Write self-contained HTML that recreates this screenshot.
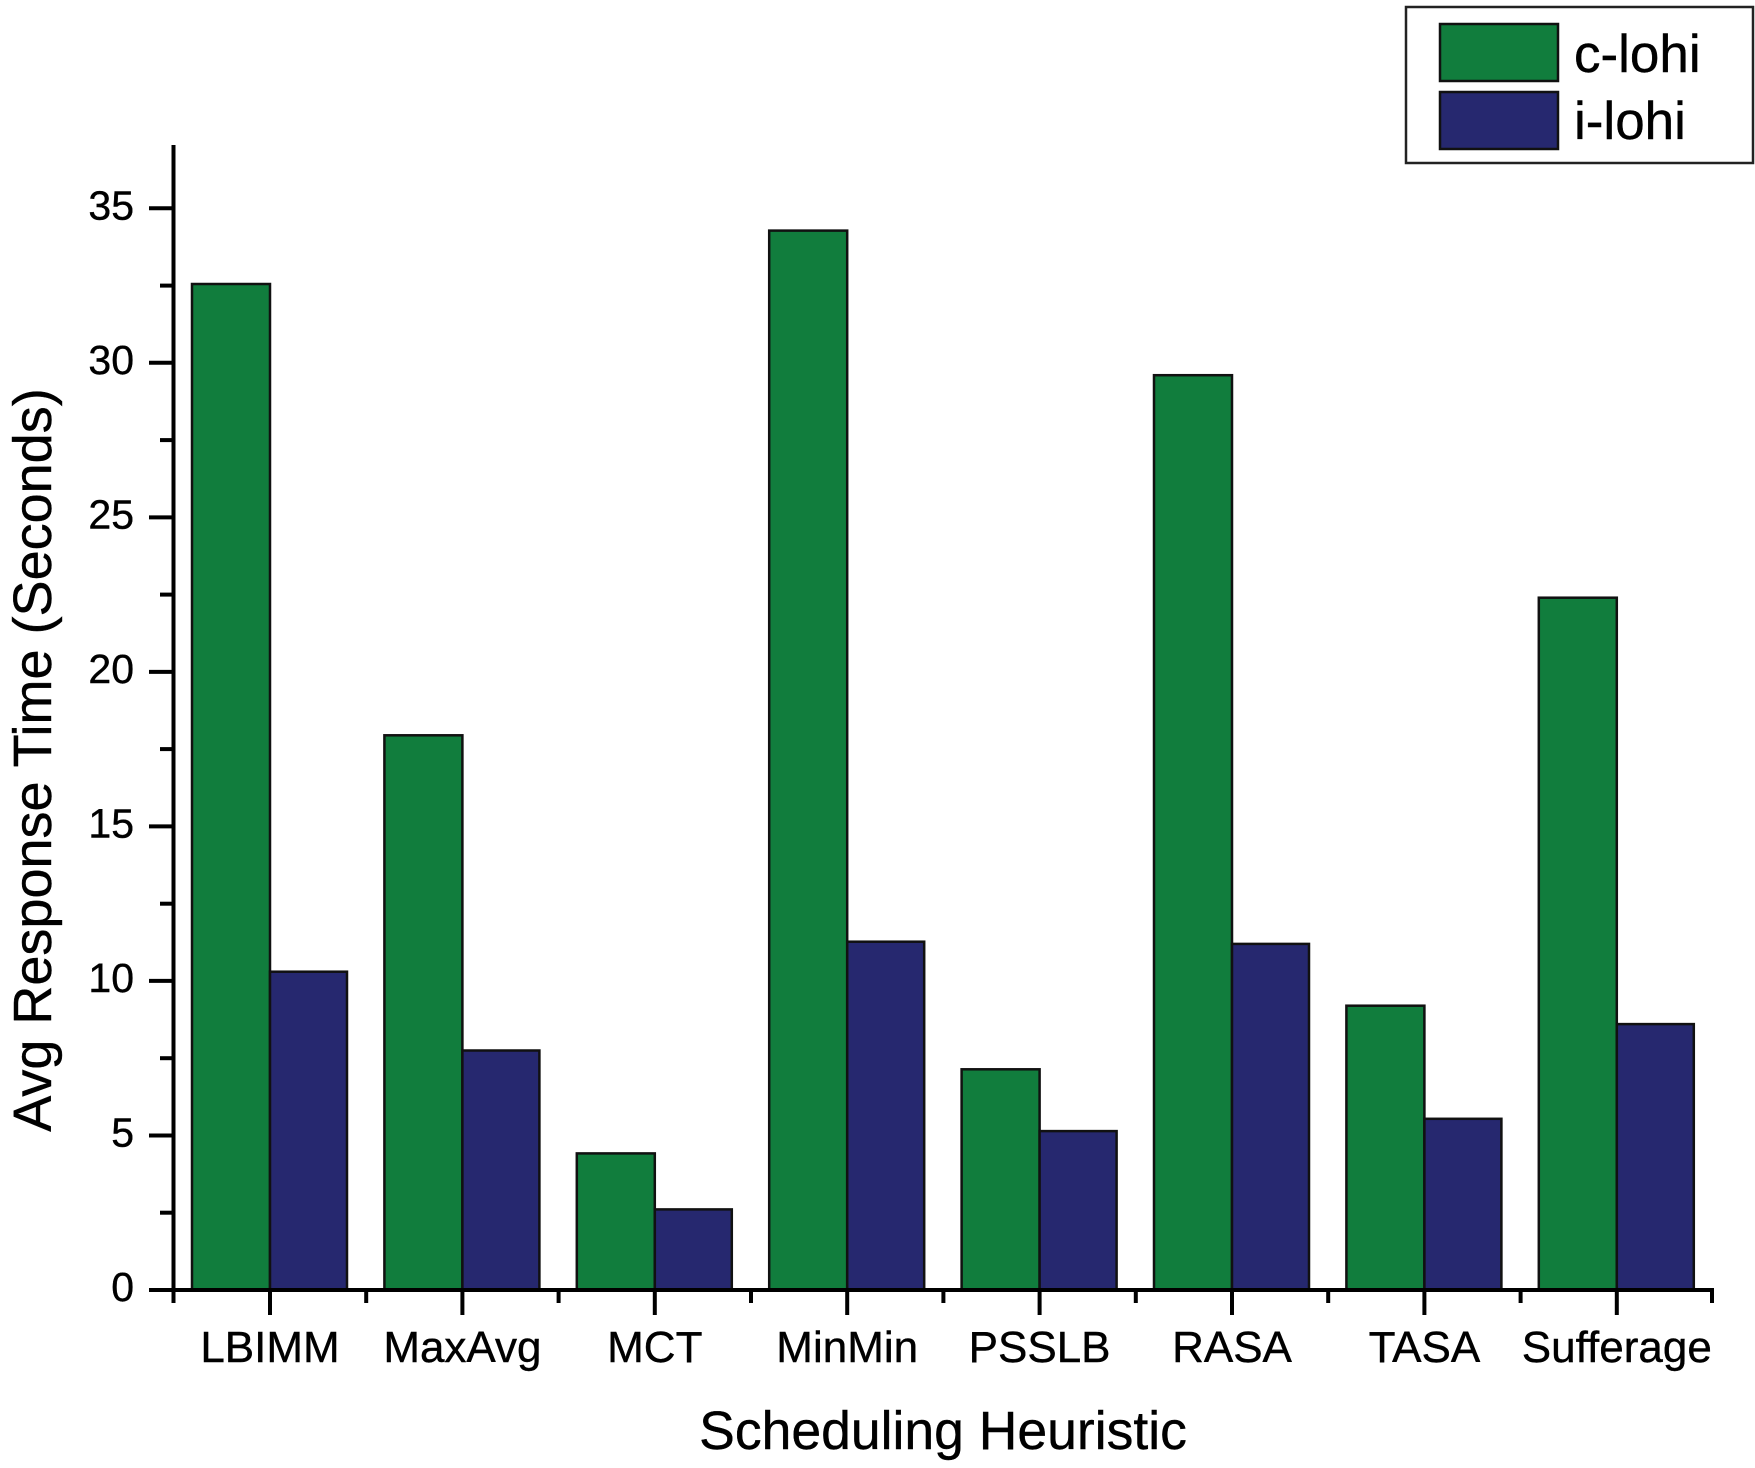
<!DOCTYPE html>
<html>
<head>
<meta charset="utf-8">
<style>
html,body{margin:0;padding:0;background:#fff;}
svg{display:block;}
text{font-family:"Liberation Sans",Arial,sans-serif;fill:#000;stroke:#000;stroke-width:0.4px;}
</style>
</head>
<body>
<svg width="1755" height="1468" viewBox="0 0 1755 1468" xmlns="http://www.w3.org/2000/svg">
<rect x="0" y="0" width="1755" height="1468" fill="#fff"/>

<!-- bars -->
<g stroke="#111" stroke-width="2.5">
  <rect x="192" y="284.0" width="78" height="1006.0" fill="#117d3d"/>
  <rect x="270" y="971.7" width="77" height="318.3" fill="#26286f"/>
  <rect x="384.4" y="735.3" width="78" height="554.7" fill="#117d3d"/>
  <rect x="462.4" y="1050.5" width="77" height="239.5" fill="#26286f"/>
  <rect x="576.8" y="1153.4" width="78" height="136.6" fill="#117d3d"/>
  <rect x="654.8" y="1209.4" width="77" height="80.6" fill="#26286f"/>
  <rect x="769.2" y="230.6" width="78" height="1059.4" fill="#117d3d"/>
  <rect x="847.2" y="941.7" width="77" height="348.3" fill="#26286f"/>
  <rect x="961.6" y="1069.3" width="78" height="220.7" fill="#117d3d"/>
  <rect x="1039.6" y="1131.1" width="77" height="158.9" fill="#26286f"/>
  <rect x="1154" y="375.2" width="78" height="914.8" fill="#117d3d"/>
  <rect x="1232" y="943.9" width="77" height="346.1" fill="#26286f"/>
  <rect x="1346.4" y="1005.7" width="78" height="284.3" fill="#117d3d"/>
  <rect x="1424.4" y="1118.8" width="77" height="171.2" fill="#26286f"/>
  <rect x="1538.8" y="597.7" width="78" height="692.3" fill="#117d3d"/>
  <rect x="1616.8" y="1024.1" width="77" height="265.9" fill="#26286f"/>
</g>

<!-- axes -->
<g stroke="#000" stroke-width="4" fill="none">
  <line x1="173.5" y1="145" x2="173.5" y2="1292"/>
  <line x1="171.5" y1="1290" x2="1714" y2="1290"/>
  <line x1="149" y1="1290" x2="173.5" y2="1290"/>
  <line x1="149" y1="1135.5" x2="173.5" y2="1135.5"/>
  <line x1="149" y1="980.9" x2="173.5" y2="980.9"/>
  <line x1="149" y1="826.4" x2="173.5" y2="826.4"/>
  <line x1="149" y1="671.9" x2="173.5" y2="671.9"/>
  <line x1="149" y1="517.4" x2="173.5" y2="517.4"/>
  <line x1="149" y1="362.8" x2="173.5" y2="362.8"/>
  <line x1="149" y1="208.3" x2="173.5" y2="208.3"/>
  <line x1="160" y1="1212.7" x2="173.5" y2="1212.7"/>
  <line x1="160" y1="1058.2" x2="173.5" y2="1058.2"/>
  <line x1="160" y1="903.7" x2="173.5" y2="903.7"/>
  <line x1="160" y1="749.1" x2="173.5" y2="749.1"/>
  <line x1="160" y1="594.6" x2="173.5" y2="594.6"/>
  <line x1="160" y1="440.1" x2="173.5" y2="440.1"/>
  <line x1="160" y1="285.6" x2="173.5" y2="285.6"/>
  <line x1="270" y1="1290" x2="270" y2="1315"/>
  <line x1="462.4" y1="1290" x2="462.4" y2="1315"/>
  <line x1="654.8" y1="1290" x2="654.8" y2="1315"/>
  <line x1="847.2" y1="1290" x2="847.2" y2="1315"/>
  <line x1="1039.6" y1="1290" x2="1039.6" y2="1315"/>
  <line x1="1232" y1="1290" x2="1232" y2="1315"/>
  <line x1="1424.4" y1="1290" x2="1424.4" y2="1315"/>
  <line x1="1616.8" y1="1290" x2="1616.8" y2="1315"/>
  <line x1="173.5" y1="1290" x2="173.5" y2="1303"/>
  <line x1="366.2" y1="1290" x2="366.2" y2="1303"/>
  <line x1="558.6" y1="1290" x2="558.6" y2="1303"/>
  <line x1="751" y1="1290" x2="751" y2="1303"/>
  <line x1="943.4" y1="1290" x2="943.4" y2="1303"/>
  <line x1="1135.8" y1="1290" x2="1135.8" y2="1303"/>
  <line x1="1328.2" y1="1290" x2="1328.2" y2="1303"/>
  <line x1="1520.6" y1="1290" x2="1520.6" y2="1303"/>
  <line x1="1712" y1="1290" x2="1712" y2="1303"/>
</g>

<!-- y tick labels -->
<g font-size="41" text-anchor="end">
  <text x="134" y="1301">0</text>
  <text x="134" y="1146.5">5</text>
  <text x="134" y="991.9">10</text>
  <text x="134" y="837.4">15</text>
  <text x="134" y="682.9">20</text>
  <text x="134" y="528.4">25</text>
  <text x="134" y="373.8">30</text>
  <text x="134" y="219.3">35</text>
</g>

<!-- x tick labels -->
<g font-size="44" text-anchor="middle">
  <text x="270" y="1362">LBIMM</text>
  <text x="462.4" y="1362">MaxAvg</text>
  <text x="654.8" y="1362">MCT</text>
  <text x="847.2" y="1362">MinMin</text>
  <text x="1039.6" y="1362">PSSLB</text>
  <text x="1232" y="1362">RASA</text>
  <text x="1424.4" y="1362">TASA</text>
  <text x="1616.8" y="1362">Sufferage</text>
</g>

<!-- axis titles -->
<text x="943" y="1449" font-size="53.5" text-anchor="middle">Scheduling Heuristic</text>
<text transform="translate(51,760) rotate(-90)" x="0" y="0" font-size="54" text-anchor="middle">Avg Response Time (Seconds)</text>

<!-- legend -->
<rect x="1406" y="7" width="347" height="156" fill="#fff" stroke="#222" stroke-width="2.5"/>
<rect x="1440" y="24" width="118" height="57" fill="#117d3d" stroke="#111" stroke-width="2.5"/>
<rect x="1440" y="92" width="118" height="57" fill="#26286f" stroke="#111" stroke-width="2.5"/>
<text x="1574" y="72" font-size="53">c-lohi</text>
<text x="1574" y="139" font-size="53">i-lohi</text>
</svg>
</body>
</html>
